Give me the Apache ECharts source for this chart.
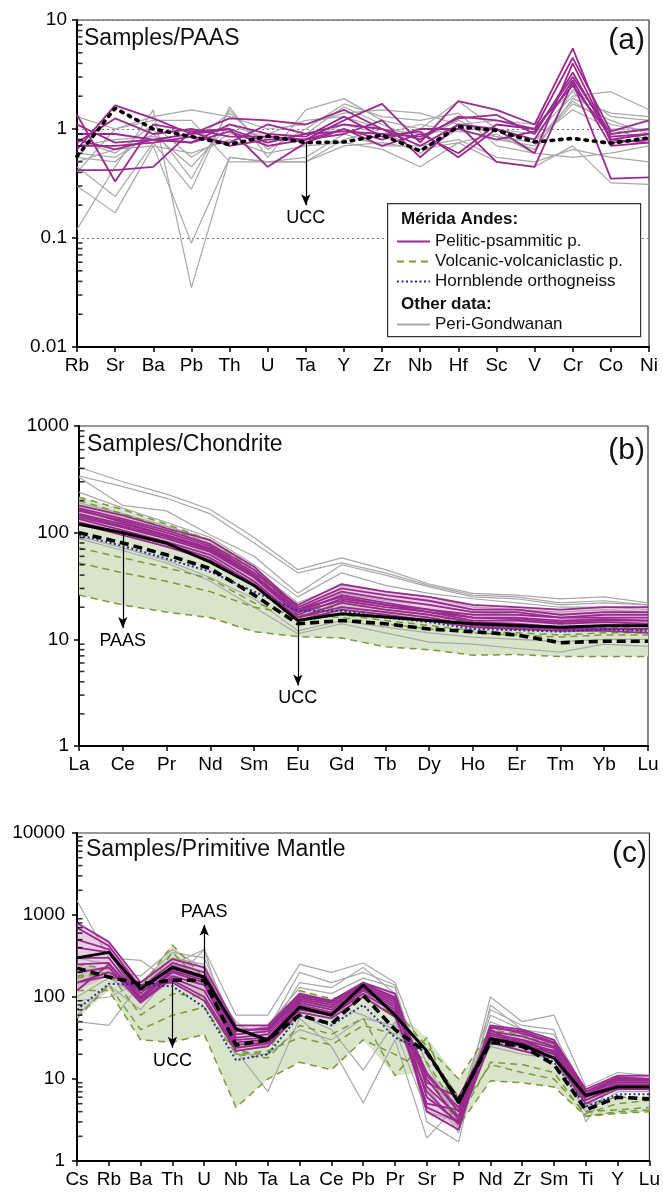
<!DOCTYPE html>
<html><head><meta charset="utf-8">
<script src="https://cdn.jsdelivr.net/npm/echarts@6/dist/echarts.min.js"></script>
<style>html,body{margin:0;padding:0;background:#fff}#c{width:663px;height:1193px}</style>
</head><body><div id="c"></div>
<script>
const FONT = '"Liberation Sans", Arial, sans-serif';

// ---------- categories ----------
const catsA = ['Rb','Sr','Ba','Pb','Th','U','Ta','Y','Zr','Nb','Hf','Sc','V','Cr','Co','Ni'];
const catsB = ['La','Ce','Pr','Nd','Sm','Eu','Gd','Tb','Dy','Ho','Er','Tm','Yb','Lu'];
const catsC = ['Cs','Rb','Ba','Th','U','Nb','Ta','La','Ce','Pb','Pr','Sr','P','Nd','Zr','Sm','Ti','Y','Lu'];

// ---------- y ranges (log) ----------
const rangeA = [0.01, 10];
const rangeB = [1, 1000];
const rangeC = [1, 10000];

// ---------- panel (a) Samples/PAAS ----------
const pelA = [
  [0.42,0.42,0.45,0.95,1.0,0.45,0.75,1.0,0.7,0.9,0.6,1.1,1.0,2.5,0.85,0.9],
  [1.35,0.33,1.1,0.95,0.7,0.8,0.8,1.2,1.7,0.75,1.8,1.5,1.1,5.5,0.75,0.8],
  [0.65,1.65,1.25,0.9,1.25,1.2,1.1,1.5,1.0,0.8,1.3,1.2,1.0,4.5,0.95,1.2],
  [0.75,1.25,0.9,1.0,0.85,0.85,0.8,1.0,0.8,1.0,1.0,0.8,0.95,3.0,0.9,1.0],
  [0.8,0.65,0.8,0.75,0.95,0.7,0.8,0.9,1.2,0.55,1.1,0.5,0.45,2.7,0.35,0.36],
  [0.9,0.9,0.8,0.75,1.1,0.9,0.85,1.3,0.85,0.95,0.55,1.0,0.6,4.0,0.8,0.75],
  [0.7,0.7,0.75,0.85,0.75,1.1,0.9,1.1,1.0,0.7,1.1,1.0,0.8,2.8,0.7,0.75],
  [1.1,0.75,0.8,0.9,1.0,0.75,0.9,0.95,0.9,0.85,1.25,1.35,0.9,3.3,0.8,0.9]
];
const periA = [
  [0.12,0.45,1.5,0.035,0.55,0.5,0.5,0.8,1.0,0.6,1.0,0.8,0.7,1.7,1.2,0.9],
  [0.3,0.17,0.7,0.09,0.55,0.5,0.55,0.9,0.7,0.7,0.8,0.55,0.5,0.65,0.55,0.5],
  [0.45,0.24,0.75,0.28,1.6,0.55,1.5,1.9,1.2,1.0,1.8,1.0,0.9,2.0,2.2,1.5],
  [0.55,0.5,1.0,0.35,1.5,0.65,1.0,1.7,1.3,1.2,1.4,0.7,0.6,2.3,1.3,1.2],
  [0.6,0.55,0.9,0.45,1.1,0.8,0.9,1.6,1.1,0.8,1.2,0.85,0.65,1.9,1.4,1.3],
  [0.8,0.6,1.1,0.55,0.9,0.9,1.2,1.3,1.0,0.9,1.0,1.0,0.8,1.5,1.0,1.0],
  [0.4,1.0,1.3,1.5,1.3,1.0,1.1,1.4,1.5,1.4,1.1,1.2,1.1,2.2,1.0,0.8],
  [1.3,1.0,1.2,1.2,0.5,0.5,0.5,0.7,0.75,0.65,0.75,0.9,0.6,0.55,0.6,0.7],
  [0.5,0.65,0.7,0.6,0.8,0.6,0.7,0.75,0.65,0.45,0.75,0.5,0.45,0.7,0.32,0.31],
  [0.7,0.8,0.85,0.75,1.4,0.7,0.8,1.1,0.9,1.1,0.95,0.85,0.75,1.8,1.1,0.95]
];
const uccA = [0.56,1.55,1.0,0.85,0.72,0.86,0.75,0.76,0.88,0.63,1.05,0.97,0.76,0.82,0.74,0.83];

// ---------- panel (b) Samples/Chondrite ----------
const pelB = [
  [180,145,110,85,48,20,30,26,23,19,19,17,18,18],
  [170,135,105,78,45,19,28,24,21,18,18,16,17,17],
  [160,130,100,75,42,21,33,28,25,21,20,19,20,20],
  [150,120,95,70,40,18,26,22,19,16,16,15,15.5,15],
  [140,112,88,66,38,17,24,21,18,15,15,14,14.5,14],
  [135,105,82,62,35,16,22,19,17,14.5,14,13,13.5,13.5],
  [125,100,78,58,33,16,20,18,16,13.5,13,12.5,12.5,12.5],
  [120,95,74,55,32,15,19,17,15,13,12.5,12,12,11.5],
  [165,125,95,72,40,19,25,21,19,17,17,16,16,16],
  [145,115,92,68,39,18,23,20,18,16,15.5,14.5,15,15]
];
const volB = [
  [215,165,120,85,45,20,22,19,17,14,13.5,13,13,12.5],
  [72,58,47,37,22,17,16,14,12.5,11.5,11,10.5,11,11],
  [52,42,35,28,20,17,17,15,13.5,12,11.5,11,11.5,11.5],
  [26,21,18,16,11.8,10.6,10.3,8.5,8.0,7.1,7.2,6.9,6.9,6.9],
  [200,150,110,78,42,19,20,18,16,13.5,13,12.5,12.5,12]
];
const periB = [
  [410,300,230,165,90,45,58,45,33,27,26,24,25,22],
  [340,270,210,150,80,42,52,42,32,26,25,22,23,21],
  [330,180,160,95,60,27,50,40,31,25,24,21,22,21],
  [240,170,125,90,50,25,42,32,27,24,22,20,20,19],
  [190,150,115,85,45,22,32,28,25,20,19,18,19,18],
  [150,115,90,70,40,20,27,23,21,18,17,16,16,16],
  [88,68,52,35,20,11.3,14,11.5,9.4,9,8.2,7.6,9,8.6],
  [92,72,55,38,24,12,15,13,11.5,10.5,10,9.5,10,10]
];
const hblB = [95,75,57,43,28,18.5,18.5,16,14.5,12.5,12.2,11.8,12.4,12];
const uccB = [100,80,62,46,26,14,15,14,12.5,11.8,11,9.3,9.6,9.6];
const paasB = [120,100,80,53,32,15,17.4,16.2,15,14,13.5,13,13.4,13.4];

// ---------- panel (c) Samples/Primitive Mantle ----------
const pelC = [
  [800,470,150,290,230,45,45,110,90,150,110,8,3.5,45,40,30,7.5,11,11],
  [700,420,130,260,200,40,40,100,85,145,100,6,3,42,38,28,7,10.5,10],
  [500,380,110,240,180,35,38,95,80,140,90,4,2.4,40,25,22,6.5,10,10],
  [400,350,100,220,170,32,35,90,75,135,85,10,3.2,38,33,25,6.5,9.5,9.5],
  [300,300,95,200,150,30,32,85,70,130,80,12,4,36,30,24,6,9,9],
  [250,260,90,180,140,28,30,80,65,125,75,11,4.5,34,28,22,6,8.5,8.5],
  [200,230,85,170,120,26,28,75,62,120,70,9,6,32,27,20,5.5,8,8],
  [150,200,120,160,100,24,27,70,60,110,65,5,4.2,30,30,21,5.5,8.5,8.5],
  [150,180,140,150,90,22,25,65,55,100,57,7,2.8,28,22,18,5,7.5,7.5],
  [120,250,95,210,160,38,42,105,88,148,95,4.5,3,44,36,27,7,10,10]
];
const volC = [
  [170,200,130,430,170,22,20,120,95,120,70,25,10,40,35,25,4,4.2,4.5],
  [55,140,40,60,75,20,18,45,35,55,11,32,3.2,16,15,12,3.5,4,4.2],
  [120,120,30,28,35,4.5,10,16,13,30,20,12,2.7,9.5,9,8,3.5,3.8,4],
  [180,200,60,110,100,20,22,32,26,45,35,16,4,15,12,10,3.8,5,5.5],
  [250,220,100,350,140,25,28,100,80,100,60,22,6,35,30,20,5,6,6]
];
const periC = [
  [1500,300,280,150,380,60,60,250,200,260,150,15,3,100,50,60,8,12,11],
  [50,45,150,250,380,22,7,55,25,5.1,30,1.9,5,70,45,40,3,11,10],
  [90,100,150,350,300,40,40,200,150,200,140,3,1.7,80,40,35,7,11,11],
  [200,220,180,380,220,35,45,130,110,170,130,8,2.5,50,35,30,6,10,10],
  [100,170,100,250,200,30,25,90,80,60,40,4,3,30,22,20,5,8,8],
  [300,250,120,180,180,50,25,60,40,12.8,50,8,2.2,40,28,28,4.5,9,9],
  [150,200,150,300,250,45,35,150,130,230,110,6,3.5,60,40,25,6,10,10],
  [60,140,70,200,150,20,20,40,30,55,45,10,4,25,20,18,4,7,7]
];
const hblC = [70,145,140,135,75,17,20,60,45,80,32,21,5.5,27,25,16,4.6,6.5,6.5];
const uccC = [225,175,145,160,160,26,30,60,47,105,40,21,5.5,28,25,15,4.2,6,5.7];
const paasC = [300,350,125,230,175,41,30,75,60,140,60,22,5.1,31,26,18,6.3,8,8];

// ---------- annotations (data coords: category index, from, to) ----------
const arrowsA = [{x:6, from:0.75, to:0.2, text:'UCC'}];
const arrowsB_paas = [{x:0.77, from:100, to:12.8, text:'PAAS'}];
const arrowsB_ucc = [{x:5, from:13.8, to:3.7, text:'UCC'}];
const arrowsC_paas = [{x:3.79, from:165, to:760, text:'PAAS'}];
const arrowsC_ucc = [{x:3.29, from:160, to:24, text:'UCC'}];

// ---------- styles ----------
const PURPLE = '#9b2a8f', GRAY = '#a8a8a8', GREEN = '#7a9a3a', NAVY = '#2e2e9a';
const NAME_PEL = 'Pelitic-psammitic p.', NAME_VOL = 'Volcanic-volcaniclastic p.',
      NAME_HBL = 'Hornblende orthogneiss', NAME_PERI = 'Peri-Gondwanan';

const series = [];
function line(name, data, p, style, z, extra) {
  series.push(Object.assign({
    type: 'line', name, data, xAxisIndex: p, yAxisIndex: p, symbol: 'none', showSymbol: false,
    lineStyle: style, itemStyle: {color: style.color}, z, silent: true, animation: false,
    emphasis: {disabled: true}
  }, extra || {}));
}
function envelope(id, arrs, p, color, z) {
  const n = arrs[0].length;
  const lo = [], hi = [];
  for (let i = 0; i < n; i++) {
    const col = arrs.map(a => a[i]);
    lo.push(Math.min(...col));
    hi.push(Math.max(...col) - Math.min(...col));
  }
  series.push({type:'line', name:id+'_lo', data:lo, xAxisIndex:p, yAxisIndex:p, stack:id, symbol:'none',
    lineStyle:{opacity:0}, z, silent:true, animation:false});
  series.push({type:'line', name:id+'_hi', data:hi, xAxisIndex:p, yAxisIndex:p, stack:id, symbol:'none',
    lineStyle:{opacity:0}, areaStyle:{color, opacity:1}, z, silent:true, animation:false});
}
function arrowML(list) {
  return {
    silent: true, animation: false, symbol: ['none','arrow'], symbolSize: [7, 11],
    lineStyle: {color:'#000', width:1.2, type:'solid'},
    label: {show:true, position:'end', color:'#000', fontSize:18, fontFamily:FONT, distance:4,
            formatter: p => p.data.text},
    emphasis: {disabled: true},
    data: list.map(a => [{coord:[a.x, a.from], text:a.text}, {coord:[a.x, a.to], text:a.text}])
  };
}

const sPel = {color:PURPLE, width:1.8};
const sPeri = {color:GRAY, width:1.2};
const sVol = {color:GREEN, width:1.5, type:[7,5]};
const sHbl = {color:NAVY, width:2, type:[2,2.5]};

// panel a
periA.forEach(d => line(NAME_PERI, d, 0, sPeri, 2));
pelA.forEach(d => line(NAME_PEL, d, 0, sPel, 4));
line('UCC_a', uccA, 0, {color:'#000', width:3.6, type:[2.5,6], cap:'round'}, 6, {markLine: arrowML(arrowsA)});

// panel b
envelope('gB', volB, 1, '#d8e5cb', 1);
periB.forEach(d => line(NAME_PERI, d, 1, sPeri, 2));
volB.forEach(d => line(NAME_VOL, d, 1, sVol, 3));
envelope('pB', pelB, 1, 'rgba(205,150,195,0.45)', 3);
pelB.forEach(d => line(NAME_PEL, d, 1, sPel, 4));
line(NAME_HBL, hblB, 1, sHbl, 5);
line('UCC_b', uccB, 1, {color:'#000', width:3.6, type:[9,5]}, 6, {markLine: arrowML(arrowsB_ucc)});
line('PAAS_b', paasB, 1, {color:'#000', width:3}, 6, {markLine: arrowML(arrowsB_paas)});

// panel c
envelope('gC', volC, 2, '#d8e5cb', 1);
periC.forEach(d => line(NAME_PERI, d, 2, sPeri, 2));
volC.forEach(d => line(NAME_VOL, d, 2, sVol, 3));
envelope('pC', pelC, 2, 'rgba(205,150,195,0.45)', 3);
pelC.forEach(d => line(NAME_PEL, d, 2, sPel, 4));
line(NAME_HBL, hblC, 2, sHbl, 5);
line('UCC_c', uccC, 2, {color:'#000', width:3.6, type:[9,5]}, 6, {markLine: arrowML(arrowsC_ucc)});
line('PAAS_c', paasC, 2, {color:'#000', width:3}, 6, {markLine: arrowML(arrowsC_paas)});

// minor ticks (2..9 within each decade) drawn inside the left axis
function minorTicks(range) {
  const out = [];
  for (let d = range[0]; d < range[1] - 1e-12; d *= 10)
    for (let k = 2; k <= 9; k++) out.push([0, +(d * k).toPrecision(3)]);
  return out;
}
[rangeA, rangeB, rangeC].forEach((r, p) => series.push({
  type:'scatter', data:minorTicks(r), xAxisIndex:p, yAxisIndex:p, symbol:'rect',
  symbolSize:[5,1.6], symbolOffset:[3,0], itemStyle:{color:'#000'}, z:7, silent:true,
  animation:false, clip:false
}));

const grids = [
  {left:77, right:14, top:20, height:327},
  {left:79, right:15, top:426, height:320},
  {left:77, right:12, top:833, height:328}
].map(g => Object.assign({show:true, borderColor:'#333', borderWidth:1.2, backgroundColor:'transparent'}, g));

function xAx(cats, p) {
  return {type:'category', gridIndex:p, data:cats, boundaryGap:false,
    axisLine:{onZero:false, lineStyle:{color:'#000', width:2}},
    axisTick:{show:true, interval:0, length:5, lineStyle:{color:'#000', width:1.5}},
    axisLabel:{interval:0, fontSize:19, color:'#000', margin:9, fontFamily:FONT},
    splitLine:{show:false}};
}
function yAx(range, p, margin) {
  return {type:'log', logBase:10, gridIndex:p, min:range[0], max:range[1],
    axisLine:{show:true, lineStyle:{color:'#000', width:2}},
    axisTick:{show:true, length:5, lineStyle:{color:'#000', width:1.5}},
    axisLabel:{fontSize:19, color:'#000', margin:margin, fontFamily:FONT,
      formatter: v => String(parseFloat((+v).toPrecision(6)))},
    splitLine:{show: p === 0, lineStyle:{type:[2,3], color:'#777', width:1}},
    minorTick:{show:false}, minorSplitLine:{show:false}};
}

const titleStyle = (s) => ({fontSize:s, fontWeight:'normal', color:'#111', fontFamily:FONT});
const legendCommon = {orient:'vertical', left:396, padding:0, itemWidth:33, itemHeight:10, itemGap:3,
  selectedMode:false, z:9, itemStyle:{opacity:0, borderWidth:0},
  textStyle:{fontSize:17, color:'#111', fontFamily:FONT, lineHeight:17}};
const option = {
  animation: false,
  backgroundColor: '#fff',
  grid: grids,
  xAxis: [xAx(catsA,0), xAx(catsB,1), xAx(catsC,2)],
  yAxis: [yAx(rangeA,0,10), yAx(rangeB,1,10), yAx(rangeC,2,12)],
  title: [
    {text:'Samples/PAAS', left:84, top:27, padding:0, textStyle:titleStyle(23)},
    {text:'(a)', right:18, top:26, padding:0, textStyle:titleStyle(30)},
    {text:'Samples/Chondrite', left:87, top:433, padding:0, textStyle:titleStyle(23)},
    {text:'(b)', right:18, top:436, padding:0, textStyle:titleStyle(30)},
    {text:'Samples/Primitive Mantle', left:86, top:838, padding:0, textStyle:titleStyle(23)},
    {text:'(c)', right:16, top:839, padding:0, textStyle:titleStyle(30)}
  ],
  legend: [
    Object.assign({data:[NAME_PEL, NAME_VOL, NAME_HBL], top:233}, legendCommon),
    Object.assign({data:[NAME_PERI], top:316}, legendCommon)
  ],
  graphic: [
    {type:'rect', left:387, top:203, z:8, shape:{width:253, height:133},
     style:{fill:'#fff', stroke:'#333', lineWidth:1.2}},
    {type:'text', left:401, top:211, z:9, style:{text:'Mérida Andes:', fill:'#111',
     font:'bold 17px ' + FONT}},
    {type:'text', left:401, top:296, z:9, style:{text:'Other data:', fill:'#111',
     font:'bold 17px ' + FONT}}
  ],
  series
};
const chart = echarts.init(document.getElementById('c'), null, {renderer:'canvas'});
chart.setOption(option);
</script></body></html>
